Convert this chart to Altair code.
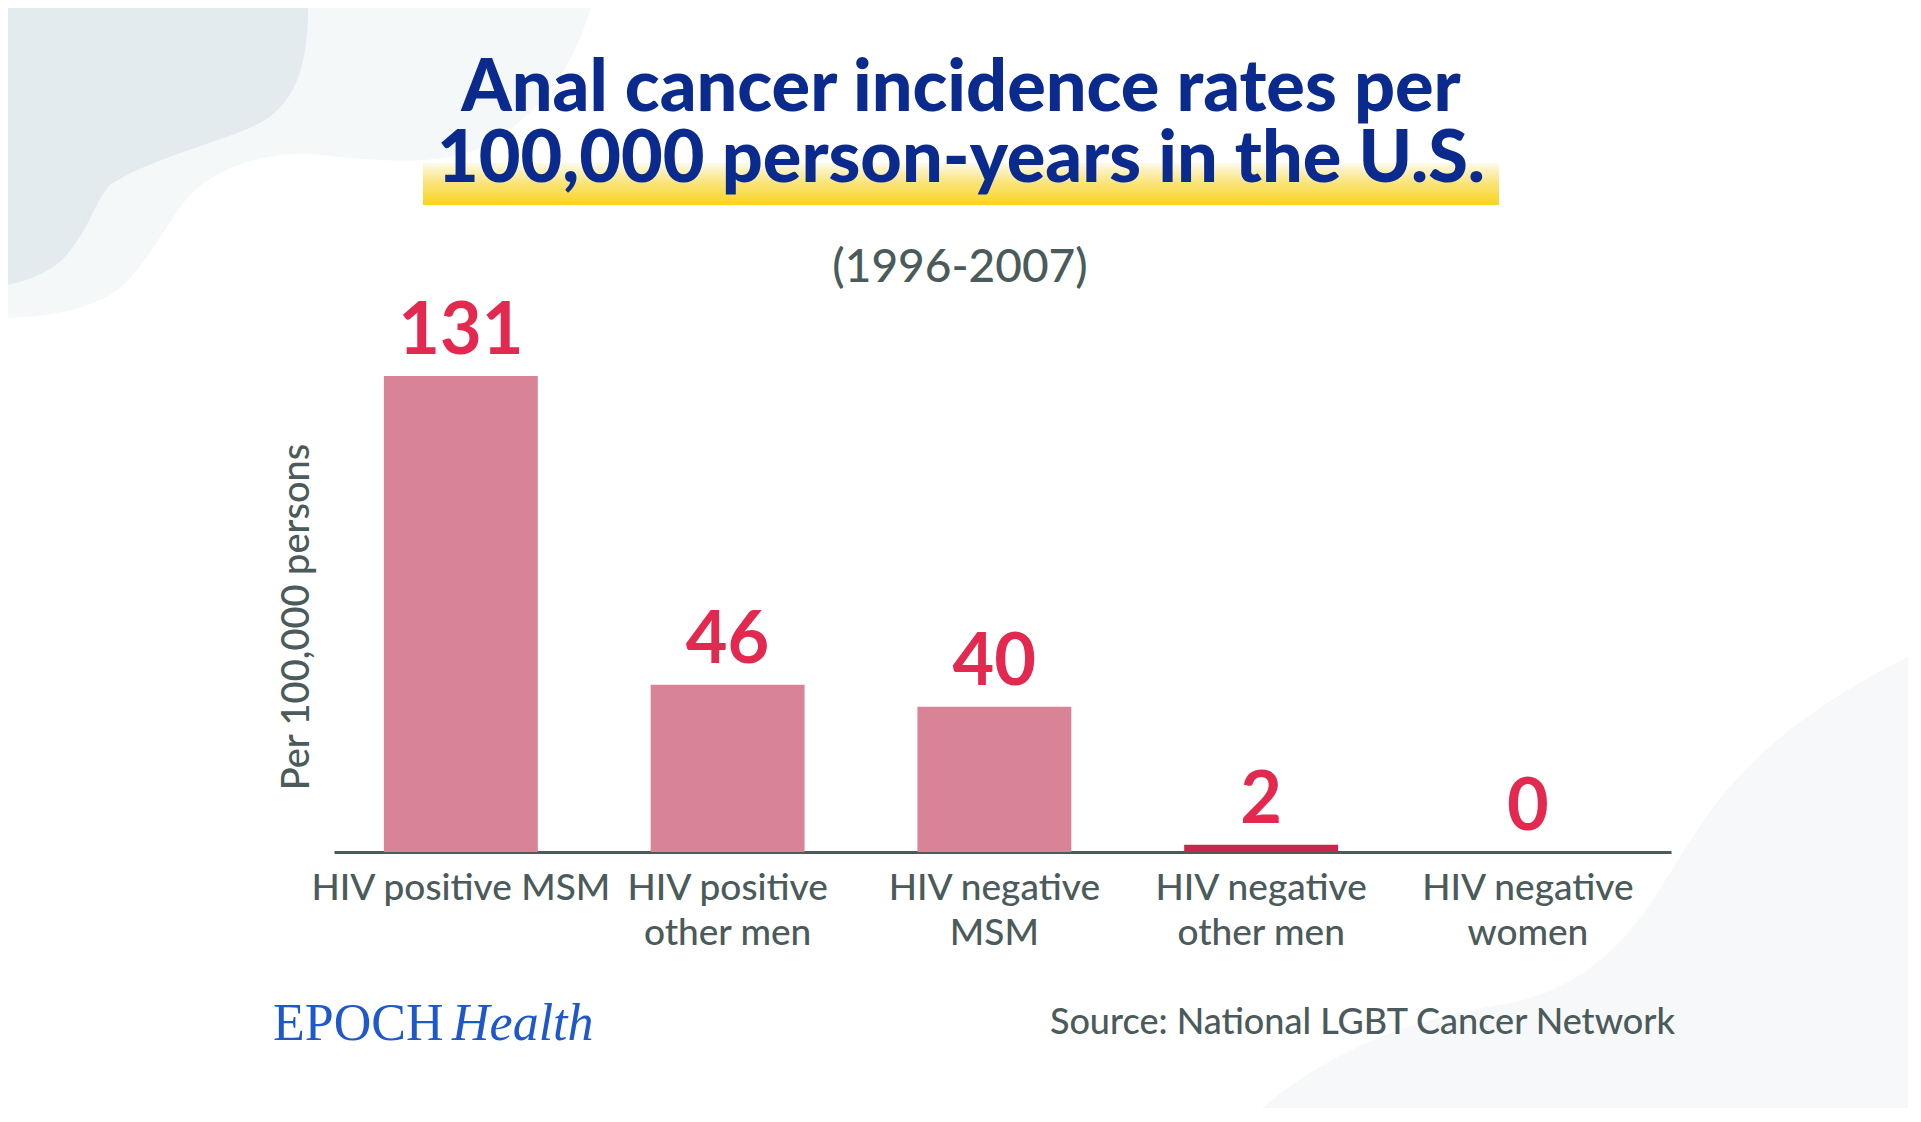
import altair as alt
import pandas as pd

# ---- data ----
categories = ["HIV positive MSM", "HIV positive\nother men", "HIV negative\nMSM",
              "HIV negative\nother men", "HIV negative\nwomen"]
values = [131, 46, 40, 2, 0]

title_lines = ["Anal cancer incidence rates per", "100,000 person-years in the U.S."]
subtitle = "(1996-2007)"
y_title = "Per 100,000 persons"
source = "Source: National LGBT Cancer Network"

df = pd.DataFrame({"category": categories, "value": values})
one = pd.DataFrame({"k": [0]})

# ---- geometry / style ----
W, H = 1337, 476
PL, PT = 326, 368
TOTAL_W, TOTAL_H = 1900, 1100
OX, OY = PL + 8, PT + 8   # plot origin in page coords

NAVY = "#0b2a8e"
GREY = "#4b5a5a"
RED = "#e3294f"
PINK = "#d88396"
DARKRED = "#c9264c"

xscale = alt.Scale(domain=categories, paddingInner=0.423, paddingOuter=0.2175, align=0.43)
yscale = alt.Scale(domain=[0, 131], nice=False, zero=True)

# ---- decorative background blobs (page coords, size=4 => unit scale) ----
blob_light_tl = ("M0,0 L593,0 C575,70 535,120 480,148 C440,165 390,162 320,155 "
                 "C270,150 220,165 190,195 C165,225 150,260 120,288 C95,308 50,318 0,318 Z")
blob_dark_tl = ("M0,0 L308,0 C309,55 300,100 262,122 C230,140 150,158 110,185 "
                "C95,200 88,235 60,262 C40,278 15,284 0,286 Z")
blob_br = ("M1921,650 C1840,690 1760,740 1706,817 C1670,870 1640,930 1600,960 "
           "C1570,985 1540,998 1500,1005 C1420,1018 1330,1045 1246,1122 L1921,1122 Z")


def blob(path, color):
    return alt.Chart(one).mark_point(
        shape=path, size=4, filled=True, color=color, opacity=1, strokeWidth=0
    ).encode(x=alt.value(-OX), y=alt.value(-OY))


layers = [
    blob(blob_light_tl, "#f5f8f9"),
    blob(blob_dark_tl, "#e3ebef"),
    blob(blob_br, "#f6f8f9"),
]

# yellow highlight band behind title line 2
grad = alt.Gradient(
    gradient="linear",
    stops=[alt.GradientStop(color="#fdfaea", offset=0),
           alt.GradientStop(color="#fae57f", offset=0.45),
           alt.GradientStop(color="#f9d41e", offset=1)],
    x1=0, x2=0, y1=0, y2=1,
)
layers.append(
    alt.Chart(one).mark_rect(color=grad).encode(
        x=alt.value(423 - OX), x2=alt.value(1499 - OX),
        y=alt.value(163 - OY), y2=alt.value(205 - OY))
)

# title lines
for line, base in zip(title_lines, [111, 182]):
    layers.append(
        alt.Chart(one).mark_text(
            text=line, font="Lato", fontWeight=900, fontSize=72,
            color=NAVY, align="center", baseline="alphabetic"
        ).encode(x=alt.value(961 - OX), y=alt.value(base - OY))
    )

# subtitle
layers.append(
    alt.Chart(one).mark_text(
        text=subtitle, font="Lato", fontWeight=500, fontSize=46, color=GREY,
        align="center", baseline="alphabetic"
    ).encode(x=alt.value(960 - OX), y=alt.value(282 - OY))
)

# bars
bars = alt.Chart(df).mark_bar().encode(
    x=alt.X("category:N", sort=categories, scale=xscale,
            axis=alt.Axis(labels=False, ticks=False, title=None, grid=False,
                          domainColor=GREY, domainWidth=3)),
    y=alt.Y("value:Q", scale=yscale, axis=None),
    color=alt.condition(alt.datum.value < 10, alt.value(DARKRED), alt.value(PINK)),
)
layers.append(bars)

# value labels
layers.append(
    alt.Chart(df).mark_text(
        font="Lato", fontWeight="bold", fontSize=72, color=RED,
        align="center", baseline="alphabetic", dy=-22
    ).encode(
        x=alt.X("category:N", sort=categories, scale=xscale),
        y=alt.Y("value:Q", scale=yscale),
        text=alt.Text("value:Q"),
    )
)

# category labels
layers.append(
    alt.Chart(df).mark_text(
        font="Lato", fontWeight=500, fontSize=37, color=GREY, align="center",
        baseline="alphabetic", lineBreak="\n", lineHeight=45
    ).encode(
        x=alt.X("category:N", sort=categories, scale=xscale),
        y=alt.value(900 - OY),
        text="category:N",
    )
)

# y title
layers.append(
    alt.Chart(one).mark_text(
        text=y_title, font="Lato", fontWeight=500, fontSize=38, color=GREY, angle=270,
        align="center", baseline="alphabetic"
    ).encode(x=alt.value(309 - OX), y=alt.value(617 - OY))
)

# footer
layers.append(
    alt.Chart(one).mark_text(
        text="EPOCH", font="Liberation Serif", fontSize=52, color="#1f58c9",
        align="left", baseline="alphabetic"
    ).encode(x=alt.value(273 - OX), y=alt.value(1040 - OY))
)
layers.append(
    alt.Chart(one).mark_text(
        text="Health", font="Liberation Serif", fontStyle="italic", fontSize=52,
        color="#1f58c9", align="left", baseline="alphabetic"
    ).encode(x=alt.value(452 - OX), y=alt.value(1040 - OY))
)
layers.append(
    alt.Chart(one).mark_text(
        text=source, font="Lato", fontWeight=500, fontSize=36, color=GREY,
        align="right", baseline="alphabetic"
    ).encode(x=alt.value(1675 - OX), y=alt.value(1034 - OY))
)

chart = alt.layer(*layers).properties(
    width=W, height=H,
    autosize=alt.AutoSizeParams(type="none"),
    padding={"left": PL, "top": PT, "right": TOTAL_W - PL - W, "bottom": TOTAL_H - PT - H},
    background="white",
).configure_view(stroke=None)

chart.save("out.html", embed_options={"renderer": "svg", "actions": False})
